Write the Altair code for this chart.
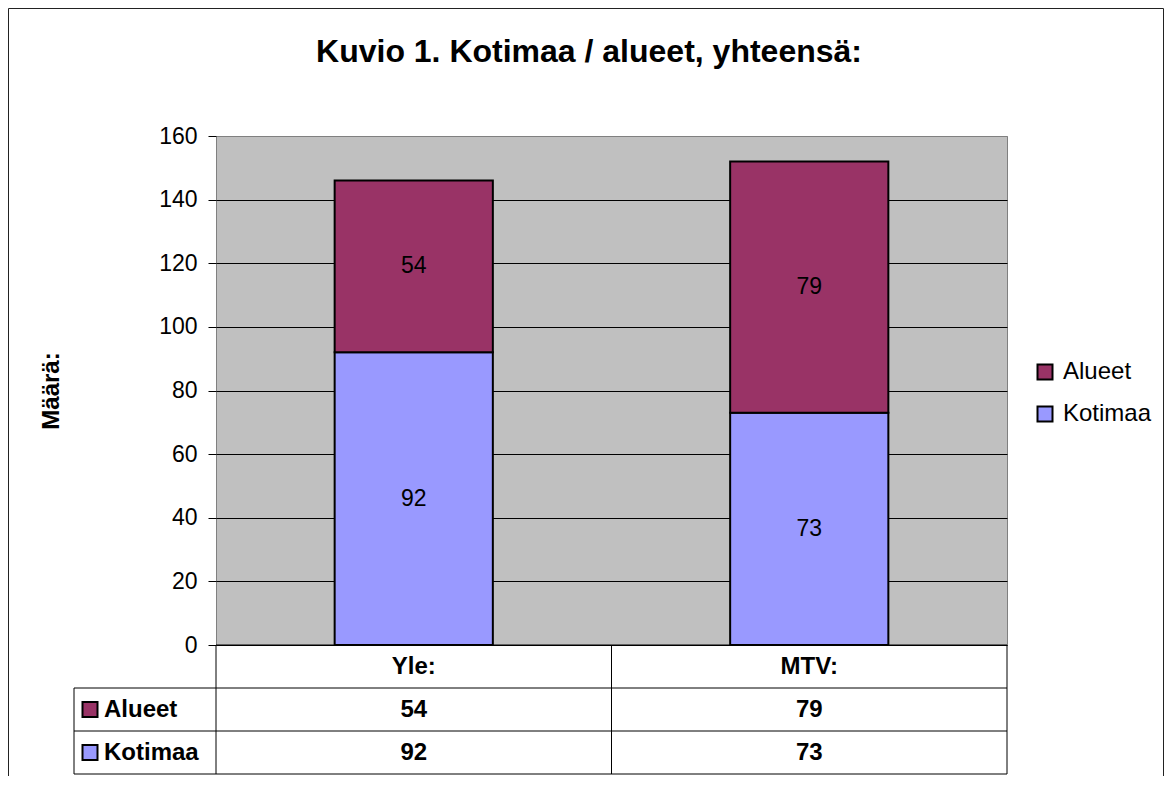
import altair as alt
import pandas as pd

FONT = "Liberation Sans"

categories = ["Yle:", "MTV:"]
series = ["Alueet", "Kotimaa"]
alueet = [54, 79]
kotimaa = [92, 73]
y_ticks = [0, 20, 40, 60, 80, 100, 120, 140, 160]
table_rows = ["header", "Alueet", "Kotimaa"]
colors = ["#993366", "#9999FF"]
title_text = "Kuvio 1. Kotimaa / alueet, yhteensä:"
y_title = "Määrä:"

W, H = 791, 509
ROW = 43

records = []
for i, c in enumerate(categories):
    records.append({"cat": c, "series": "Kotimaa", "value": kotimaa[i], "stack_order": 0})
    records.append({"cat": c, "series": "Alueet", "value": alueet[i], "stack_order": 1})
df = pd.DataFrame(records)

table = []
for i, c in enumerate(categories):
    table.append({"cat": c, "row": "header", "label": c})
    table.append({"cat": c, "row": "Alueet", "label": str(alueet[i])})
    table.append({"cat": c, "row": "Kotimaa", "label": str(kotimaa[i])})
tdf = pd.DataFrame(table)
rows_df = pd.DataFrame({"row": series})
dummy = pd.DataFrame({"k": [0]})

xenc = alt.X("cat:N", sort=categories,
             scale=alt.Scale(domain=categories, paddingInner=0.6, paddingOuter=0.3),
             axis=None)
yscale = alt.Scale(domain=[0, 160], nice=False, zero=True)
color_scale = alt.Scale(domain=series, range=colors)

yaxis = alt.Axis(values=y_ticks, title=y_title, titleFont=FONT, titleFontSize=24,
                 titleFontWeight="bold", titleColor="black", titleAngle=-90,
                 titleX=-165, titleY=H / 2, titleBaseline="middle", titleAlign="center",
                 labelFont=FONT, labelFontSize=23, labelColor="black", labelPadding=11,
                 tickSize=8, tickColor="black", tickWidth=1, domain=False,
                 grid=True, gridWidth=1, gridOpacity=1,
                 gridColor={"condition": {"test": "datum.value === 160", "value": "#808080"},
                            "value": "#000000"})

bars = alt.Chart(df).mark_bar(stroke="black", strokeWidth=2).encode(
    x=xenc,
    y=alt.Y("value:Q", stack="zero", scale=yscale, axis=yaxis, title=y_title),
    color=alt.Color("series:N", scale=color_scale,
                    legend=alt.Legend(title=None, orient="none", legendX=817, legendY=224,
                                      symbolType="square", symbolSize=225, symbolStrokeColor="black",
                                      symbolStrokeWidth=2, symbolOpacity=1,
                                      labelFont=FONT, labelFontSize=24, labelColor="black",
                                      labelOffset=6, rowPadding=18)),
    order=alt.Order("stack_order:Q", sort="ascending"),
)

labels = alt.Chart(df).transform_stack(
    stack="value", groupby=["cat"], as_=["y0", "y1"],
    sort=[alt.SortField("stack_order", order="ascending")]
).transform_calculate(mid="(datum.y0 + datum.y1) / 2").mark_text(
    font=FONT, fontSize=23, color="black", baseline="middle"
).encode(
    x=xenc,
    y=alt.Y("mid:Q", scale=yscale, axis=yaxis, title=y_title),
    text="value:Q",
)

title = alt.Chart(dummy).mark_text(
    text=title_text, font=FONT, fontSize=32, fontWeight="bold", color="black",
    align="center", baseline="alphabetic"
).encode(x=alt.value(373), y=alt.value(-74))


def hline(y, x1, x2, color="black"):
    return alt.Chart(dummy).mark_rule(color=color, strokeWidth=1).encode(
        y=alt.value(y), x=alt.value(x1), x2=alt.value(x2))


def vline(x, y1, y2, color="black"):
    return alt.Chart(dummy).mark_rule(color=color, strokeWidth=1).encode(
        x=alt.value(x), y=alt.value(y1), y2=alt.value(y2))


# outer chart border (open at the bottom, as cropped in the original)
frame = [
    hline(-127.5, -207.5, 947.5, "#222222"),
    vline(-207.5, -127.5, 640, "#222222"),
    vline(947.5, -127.5, 640, "#222222"),
]

plot_layer = alt.layer(*frame, bars, labels, title)

yrow = alt.Y("row:N", sort=table_rows,
             scale=alt.Scale(domain=table_rows, range=[H, H + 3 * ROW], paddingInner=0, paddingOuter=0),
             axis=None)

tvals = alt.Chart(tdf).mark_text(font=FONT, fontSize=24, fontWeight="bold", color="black",
                                 baseline="middle").encode(x=xenc, y=yrow, text="label:N")

rlabels = alt.Chart(rows_df).mark_text(font=FONT, fontSize=24, fontWeight="bold", color="black",
                                       align="left", baseline="middle").encode(
    x=alt.value(-112), y=yrow, text="row:N")

swatches = alt.Chart(rows_df).mark_square(size=225, stroke="black", strokeWidth=2, opacity=1).encode(
    x=alt.value(-126), y=yrow, color=alt.Color("row:N", scale=color_scale, legend=None))

lines = [
    hline(H, 0, W),
    hline(H + ROW, -142, W),
    hline(H + 2 * ROW, -142, W),
    hline(H + 3 * ROW, -142, W),
    vline(-142, H + ROW, H + 3 * ROW),
    vline(0, H, H + 3 * ROW),
    vline(W / 2, H, H + 3 * ROW),
    vline(W, H, H + 3 * ROW),
]

table_layer = alt.layer(*lines, swatches, rlabels, tvals)

chart = alt.layer(plot_layer, table_layer).resolve_scale(y="independent").properties(
    width=W, height=H, padding=0, background="white"
).configure_view(fill="#C0C0C0", stroke="#808080", strokeWidth=1)

chart.save("out.html", embed_options={"renderer": "svg", "actions": False})
